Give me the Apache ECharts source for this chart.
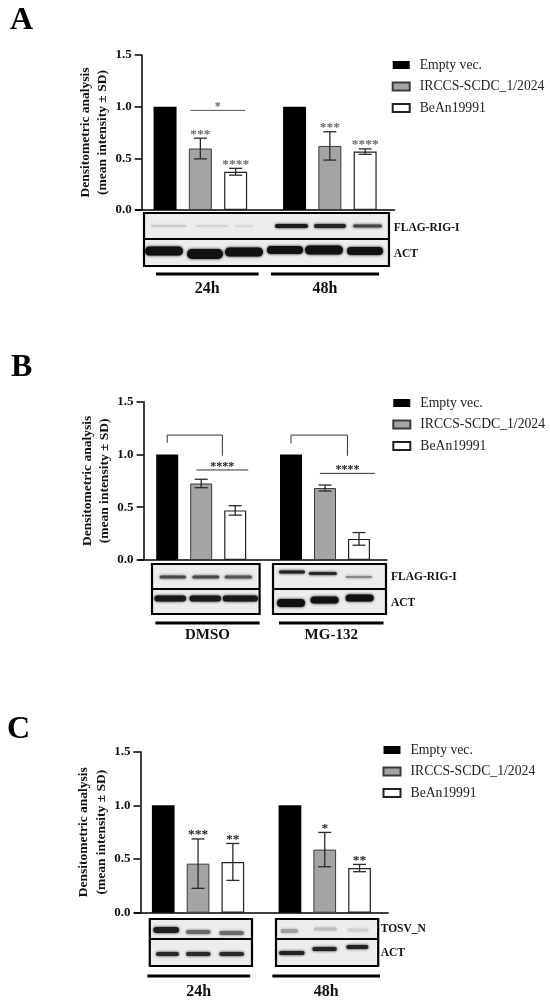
<!DOCTYPE html>
<html><head><meta charset="utf-8">
<script src="https://cdn.jsdelivr.net/npm/echarts@6/dist/echarts.min.js"></script>
<style>html,body{margin:0;padding:0;background:#fff}#c{width:550px;height:1003px}</style>
</head><body><div id="c"></div>
<script>
const FONT = '"Liberation Serif","Times New Roman",serif';
const seriesNames = ['Empty vec.', 'IRCCS-SCDC_1/2024', 'BeAn19991'];
const yTickStep = 0.5;

// Panel A (FLAG-RIG-I, 24h / 48h)
const groupsA = ['24h', '48h'];
const emptyA = [1.0, 1.0];
const irccsA = [0.595, 0.62];
const irccsSdA = [0.10, 0.137];
const beanA = [0.37, 0.565];
const beanSdA = [0.033, 0.026];
const irccsStarsA = ['***', '***'];
const beanStarsA = ['****', '****'];
const sigA = [{ g: 0, from: 0.72, to: 2.27, y: 0.964, label: '*' }];

// Panel B (FLAG-RIG-I, DMSO / MG-132)
const groupsB = ['DMSO', 'MG-132'];
const emptyB = [1.0, 1.0];
const irccsB = [0.725, 0.682];
const irccsSdB = [0.04, 0.028];
const beanB = [0.47, 0.20];
const beanSdB = [0.045, 0.06];
const sigB = [
  { g: 0, from: 0.86, to: 2.385, y: 0.853, label: '****', top: 1.184, leftEnd: 1.11, rightEnd: 0.988 },
  { g: 1, from: 0.85, to: 2.47, y: 0.821, label: '****', top: 1.184, leftEnd: 1.105, rightEnd: 0.988 }
];

// Panel C (TOSV_N, 24h / 48h)
const groupsC = ['24h', '48h'];
const emptyC = [1.0, 1.0];
const irccsC = [0.457, 0.588];
const irccsSdC = [0.23, 0.16];
const beanC = [0.473, 0.416];
const beanSdC = [0.172, 0.034];
const irccsStarsC = ['***', '*'];
const beanStarsC = ['**', '**'];

// ---------- layout ----------
const panels = [
  { top: 55, height: 155, left: 135.6, width: 259, axisX: 141.7, barW: 23, spacing: 35.3, groups: groupsA,
    vals: [emptyA, irccsA, beanA], sds: [null, irccsSdA, beanSdA], stars: [null, irccsStarsA, beanStarsA],
    starColor: '#6b6b6b', sig: sigA, sigColor: '#555', sigStarColor: '#6b6b6b', legendLeft: 391.7, legendTop: 58 },
  { top: 401.7, height: 158.3, left: 139.3, width: 247.6, axisX: 143.6, barW: 22, spacing: 34, groups: groupsB,
    vals: [emptyB, irccsB, beanB], sds: [null, irccsSdB, beanSdB], stars: [null, null, null],
    starColor: '#222', sig: sigB, sigColor: '#333', sigStarColor: '#222', legendLeft: 392.3, legendTop: 396 },
  { top: 751.7, height: 161, left: 134.7, width: 253.4, axisX: 140.4, barW: 22.7, spacing: 34.8, groups: groupsC,
    vals: [emptyC, irccsC, beanC], sds: [null, irccsSdC, beanSdC], stars: [null, irccsStarsC, beanStarsC],
    starColor: '#222', sig: [], sigColor: '#333', sigStarColor: '#222', legendLeft: 382.5, legendTop: 743 }
];

const barStyles = [
  { color: '#000' },
  { color: '#a4a4a4', borderColor: '#3a3a3a', borderWidth: 1 },
  { color: '#fff', borderColor: '#222', borderWidth: 1.2 }
];

const grid = [], xAxis = [], yAxis = [], series = [], legend = [];
panels.forEach((p, i) => {
  grid.push({ left: p.left, top: p.top, width: p.width, height: p.height });
  xAxis.push({ type: 'category', gridIndex: i, data: p.groups,
    axisLine: { lineStyle: { color: '#000', width: 1.5 } }, axisTick: { show: false }, axisLabel: { show: false } });
  yAxis.push({ type: 'value', gridIndex: i, min: 0, max: 1.5, interval: yTickStep, offset: p.left - p.axisX,
    axisLine: { show: true, lineStyle: { color: '#000', width: 1.5 } },
    axisTick: { show: true, length: 7, lineStyle: { color: '#000', width: 1.5 } },
    splitLine: { show: false },
    axisLabel: { formatter: v => v.toFixed(1), color: '#111', fontFamily: FONT, fontWeight: 'bold', fontSize: 13, margin: 10 },
    name: 'Densitometric analysis\n(mean intensity ± SD)', nameLocation: 'middle', nameRotate: 90, nameGap: 30,
    nameTextStyle: { fontFamily: FONT, fontWeight: 'bold', fontSize: 13.5, lineHeight: 17.5, color: '#111' } });
  seriesNames.forEach((n, k) => {
    series.push({ name: n, type: 'bar', xAxisIndex: i, yAxisIndex: i, barWidth: p.barW,
      barGap: ((p.spacing - p.barW) / p.barW * 100) + '%', data: p.vals[k], itemStyle: barStyles[k], silent: true });
  });
  // error bars + stars
  const items = [];
  for (let k = 1; k < 3; k++) p.vals[k].forEach((m, g) => {
    items.push({ g, k, m, sd: p.sds[k][g], stars: p.stars[k] ? p.stars[k][g] : '' });
  });
  series.push({ type: 'custom', xAxisIndex: i, yAxisIndex: i, silent: true, z: 5,
    data: items.map(it => [it.g, it.m + it.sd]),
    renderItem: (params, api) => {
      const it = items[params.dataIndex];
      const x = api.coord([it.g, it.m])[0] + (it.k - 1) * p.spacing;
      const yT = api.coord([it.g, it.m + it.sd])[1];
      const yB = api.coord([it.g, it.m - it.sd])[1];
      const st = { stroke: '#2a2a2a', lineWidth: 1.3 };
      const ch = [
        { type: 'line', shape: { x1: x, y1: yT, x2: x, y2: yB }, style: st },
        { type: 'line', shape: { x1: x - 6.5, y1: yT, x2: x + 6.5, y2: yT }, style: st },
        { type: 'line', shape: { x1: x - 6.5, y1: yB, x2: x + 6.5, y2: yB }, style: st }
      ];
      if (it.stars) ch.push({ type: 'text', x: x, y: yT - 4, style: { text: it.stars, fill: p.starColor,
        font: 'bold 13.5px ' + FONT, align: 'center', verticalAlign: 'middle' } });
      return { type: 'group', children: ch };
    } });
  // significance lines / brackets
  if (p.sig.length) series.push({ type: 'custom', xAxisIndex: i, yAxisIndex: i, silent: true, z: 5,
    data: p.sig.map(s => [s.g, s.y]),
    renderItem: (params, api) => {
      const s = p.sig[params.dataIndex];
      const cx = api.coord([s.g, s.y])[0];
      const px = pos => cx + (pos - 1) * p.spacing;
      const yL = api.coord([s.g, s.y])[1];
      const st = { stroke: p.sigColor, lineWidth: 1 };
      const mid = (s.from + s.to) / 2;
      const ch = [
        { type: 'line', shape: { x1: px(s.from), y1: yL, x2: px(s.to), y2: yL }, style: st },
        { type: 'text', x: px(mid), y: yL - 3, style: { text: s.label, fill: p.sigStarColor, font: 'bold 12px ' + FONT,
          align: 'center', verticalAlign: 'middle' } }
      ];
      if (s.top !== undefined) {
        const yTop = api.coord([s.g, s.top])[1];
        const yLe = api.coord([s.g, s.leftEnd])[1];
        const yRe = api.coord([s.g, s.rightEnd])[1];
        ch.push({ type: 'polyline', shape: { points: [[px(0), yLe], [px(0), yTop], [px(mid), yTop], [px(mid), yRe]] },
          style: { stroke: p.sigColor, lineWidth: 1, fill: null } });
      }
      return { type: 'group', children: ch };
    } });
  legend.push({ orient: 'vertical', left: p.legendLeft, top: p.legendTop, padding: 0, itemWidth: 17, itemHeight: 8, itemGap: 7.5,
    icon: 'rect', selectedMode: false, data: seriesNames,
    textStyle: { fontFamily: FONT, fontSize: 13.7, lineHeight: 14, color: '#222', padding: [0, 0, 0, 5] } });
});

// ---------- western blot insets (decorative images) ----------
const graphic = [];
function letter(t, x, y) {
  graphic.push({ type: 'text', left: x, top: y - 16, style: { text: t, font: 'bold 32px ' + FONT, fill: '#000' } });
}
function box(x, y, w, h, div) {
  graphic.push({ type: 'rect', shape: { x, y, width: w, height: h }, style: { fill: '#ededed', stroke: null } , z: 1});
  graphic.push({ type: 'rect', shape: { x, y, width: w, height: h }, style: { fill: null, stroke: '#000', lineWidth: 2.2 }, z: 4 });
  graphic.push({ type: 'line', shape: { x1: x, y1: div, x2: x + w, y2: div }, style: { stroke: '#000', lineWidth: 2 }, z: 4 });
}
function band(x1, x2, y, h, color, blur) {
  graphic.push({ type: 'rect', shape: { x: x1, y: y - h / 2, width: x2 - x1, height: h, r: h / 2 },
    style: { fill: color, shadowBlur: blur === undefined ? 3 : blur, shadowColor: color }, z: 2 });
}
function label(t, x, y, size) {
  graphic.push({ type: 'text', x, y, style: { text: t, font: 'bold ' + (size || 11.5) + 'px ' + FONT, fill: '#111',
    verticalAlign: 'middle' }, z: 4 });
}
function underline(x1, x2, y, t, ty, size) {
  graphic.push({ type: 'line', shape: { x1, y1: y, x2, y2: y }, style: { stroke: '#000', lineWidth: 3 } });
  graphic.push({ type: 'text', x: (x1 + x2) / 2, y: ty, style: { text: t, font: 'bold ' + size + 'px ' + FONT,
    fill: '#111', align: 'center', verticalAlign: 'middle' } });
}
letter('A', 10, 21); letter('B', 11, 368); letter('C', 7, 730);

// Panel A blot
box(144, 213, 245, 53, 239);
band(151, 186, 226, 2, '#c8c8c8'); band(196, 228, 226, 2, '#d4d4d4'); band(235, 253, 226, 2, '#dadada');
band(275, 308, 226, 4, '#1a1a1a'); band(314, 346, 226, 4, '#262626'); band(353, 382, 226, 3, '#444');
[[145, 183, 251, 9], [187, 223, 254, 10], [225, 263, 252, 9], [267, 303, 250, 8], [305, 343, 250, 9], [347, 383, 251, 8]]
  .forEach(b => band(b[0], b[1], b[2], b[3], '#111'));
label('FLAG-RIG-I', 393.7, 228); label('ACT', 393.7, 254);
underline(156, 258.6, 274, groupsA[0], 289, 16); underline(271, 379, 274, groupsA[1], 289, 16);

// Panel B blots
box(152, 564, 107.6, 50, 589);
band(159.6, 186, 577, 3, '#4a4a4a'); band(192.3, 219.3, 577, 3, '#4a4a4a'); band(224.6, 252, 577, 3, '#555');
band(154.4, 186, 598.5, 6, '#1a1a1a'); band(189.5, 221, 598.5, 6, '#1a1a1a'); band(222.8, 258, 598.5, 6, '#1a1a1a');
box(273, 564, 113, 50, 589);
band(279, 305, 572, 3, '#222'); band(308.8, 336.8, 573.5, 3, '#2a2a2a'); band(345.6, 372, 577, 2, '#888');
band(277, 305, 603, 8, '#111'); band(310.5, 338.6, 600, 7, '#111'); band(345.6, 373.7, 598, 7, '#111');
label('FLAG-RIG-I', 391, 577); label('ACT', 391, 603);
underline(155.4, 259.6, 623, groupsB[0], 635, 15); underline(279, 383.5, 623, groupsB[1], 635, 15);

// Panel C blots
box(149.8, 919, 102.2, 47, 939);
band(153.3, 179, 930, 6, '#1f1f1f'); band(186, 210.5, 932, 4, '#6a6a6a'); band(219.3, 243.9, 933, 4, '#6a6a6a');
band(156, 179, 954, 4, '#2a2a2a'); band(186, 210.5, 954, 4, '#2a2a2a'); band(219.3, 244, 954, 4, '#2a2a2a');
box(276, 919, 102.2, 47, 939);
band(280.7, 298, 931, 4, '#a0a0a0'); band(314, 336.8, 929, 3, '#bdbdbd'); band(347.4, 368.4, 930, 3, '#d0d0d0');
band(279, 304.6, 953, 4, '#222'); band(312.3, 336.8, 949, 4, '#222'); band(346.3, 368.4, 947, 4, '#222');
label('TOSV_N', 380.7, 929); label('ACT', 380.7, 953);
underline(147.4, 250.2, 976, groupsC[0], 992, 16); underline(272.3, 380, 976, groupsC[1], 992, 16);

const chart = echarts.init(document.getElementById('c'), null, { renderer: 'canvas' });
chart.setOption({ animation: false, backgroundColor: '#fff', grid, xAxis, yAxis, series, legend, graphic });
</script></body></html>
